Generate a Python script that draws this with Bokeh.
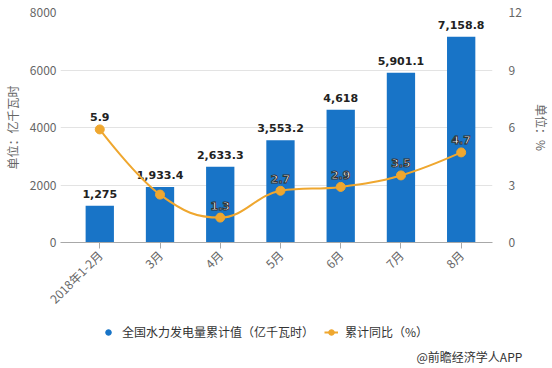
import math
from bokeh.plotting import figure
from bokeh.layouts import column
from bokeh.models import (Range1d, LinearAxis, FixedTicker, ColumnDataSource, Legend, LegendItem, Title)
from bokeh.core.properties import value
from bokeh.embed import file_html
from bokeh.resources import INLINE

# ---- data ----
categories = ["2018年1-2月", "3月", "4月", "5月", "6月", "7月", "8月"]
power = [1275, 1933.4, 2633.3, 3553.2, 4618, 5901.1, 7158.8]
power_labels = ["1,275", "1,933.4", "2,633.3", "3,553.2", "4,618", "5,901.1", "7,158.8"]
growth = [5.9, 2.5, 1.3, 2.7, 2.9, 3.5, 4.7]
growth_labels = ["5.9", "", "1.3", "2.7", "2.9", "3.5", "4.7"]
left_ticks = [0, 2000, 4000, 6000, 8000]
right_ticks = [0, 3, 6, 9, 12]

BLUE = "#1874C7"
ORANGE = "#EFA72F"
CJK = "Noto Sans CJK SC"

xs = list(range(len(categories)))

p = figure(width=552, height=315, output_backend="svg", toolbar_location=None,
           x_range=Range1d(-0.652, 6.52), y_range=Range1d(0, 8000),
           min_border_left=57, min_border_right=55, min_border_top=12, min_border_bottom=0)
p.outline_line_color = None
p.background_fill_color = "white"
p.border_fill_color = "white"

p.extra_y_ranges = {"pct": Range1d(0, 12)}

# bars
bsrc = ColumnDataSource(dict(x=xs, top=power, lab=power_labels))
p.vbar(x="x", top="top", width=0.47, source=bsrc, color=BLUE, line_color=None)
p.text(x="x", y="top", text="lab", source=bsrc, text_align="center", text_baseline="bottom",
       y_offset=-8, text_font=value("DejaVu Sans"), text_font_style="bold",
       text_font_size="11px", text_color="#222222")

# spline (Highcharts-style smoothing) built from the growth series
n = len(growth)
sm = 1.5
lc = [None] * n
rc = [None] * n
for i in range(1, n - 1):
    x0, y0 = xs[i - 1], growth[i - 1]
    x1, y1 = xs[i], growth[i]
    x2, y2 = xs[i + 1], growth[i + 1]
    lcx = (sm * x1 + x0) / (sm + 1)
    lcy = (sm * y1 + y0) / (sm + 1)
    rcx = (sm * x1 + x2) / (sm + 1)
    rcy = (sm * y1 + y2) / (sm + 1)
    if rcx != lcx:
        corr = ((rcy - lcy) * (rcx - x1)) / (rcx - lcx) + y1 - rcy
        lcy += corr
        rcy += corr
    if lcy > y0 and lcy > y1:
        lcy = max(y0, y1); rcy = 2 * y1 - lcy
    elif lcy < y0 and lcy < y1:
        lcy = min(y0, y1); rcy = 2 * y1 - lcy
    if rcy > y2 and rcy > y1:
        rcy = max(y2, y1); lcy = 2 * y1 - rcy
    elif rcy < y2 and rcy < y1:
        rcy = min(y2, y1); lcy = 2 * y1 - rcy
    lc[i] = (lcx, lcy)
    rc[i] = (rcx, rcy)

seg = dict(x0=[], y0=[], x1=[], y1=[], cx0=[], cy0=[], cx1=[], cy1=[])
for i in range(n - 1):
    a = rc[i] if rc[i] else (xs[i], growth[i])
    b = lc[i + 1] if lc[i + 1] else (xs[i + 1], growth[i + 1])
    seg["x0"].append(xs[i]); seg["y0"].append(growth[i])
    seg["x1"].append(xs[i + 1]); seg["y1"].append(growth[i + 1])
    seg["cx0"].append(a[0]); seg["cy0"].append(a[1])
    seg["cx1"].append(b[0]); seg["cy1"].append(b[1])
p.bezier(source=ColumnDataSource(seg), x0="x0", y0="y0", x1="x1", y1="y1",
         cx0="cx0", cy0="cy0", cx1="cx1", cy1="cy1",
         line_color=ORANGE, line_width=2, y_range_name="pct")

gsrc = ColumnDataSource(dict(x=xs, y=growth, lab=growth_labels))
p.scatter(x="x", y="y", source=gsrc, size=9, color=ORANGE, line_color=ORANGE,
          y_range_name="pct")

# growth labels: first one dark on white, others white with dark outline
g_dark = ColumnDataSource(dict(x=xs[:1], y=growth[:1], lab=growth_labels[:1]))
g_light = ColumnDataSource(dict(x=xs[1:], y=growth[1:], lab=growth_labels[1:]))
p.text(x="x", y="y", text="lab", source=g_dark, y_range_name="pct", text_align="center",
       text_baseline="bottom", y_offset=-8, text_font=value("DejaVu Sans"),
       text_font_style="bold", text_font_size="11px", text_color="#222222")
p.text(x="x", y="y", text="lab", source=g_light, y_range_name="pct", text_align="center",
       text_baseline="bottom", y_offset=-8, text_font=value("DejaVu Sans"),
       text_font_style="bold", text_font_size="11px", text_color="white",
       text_outline_color="#333333")

# axes
xa = p.xaxis[0]
xa.ticker = FixedTicker(ticks=xs)
xa.major_label_overrides = {i: c for i, c in enumerate(categories)}
xa.major_label_orientation = math.pi / 4
xa.major_label_text_font = CJK
xa.major_label_text_font_size = "12px"
xa.major_label_text_color = "#666666"
xa.axis_line_color = "#a8a8a8"
xa.major_tick_line_color = "#a8a8a8"
xa.major_tick_out = 6
xa.major_tick_in = 0
xa.minor_tick_line_color = None
xa.major_label_standoff = 4

ya = p.yaxis[0]
ya.ticker = FixedTicker(ticks=left_ticks)
ya.axis_line_color = None
ya.major_tick_line_color = None
ya.minor_tick_line_color = None
ya.major_tick_out = 0
ya.major_tick_in = 0
ya.major_label_text_font = CJK
ya.major_label_text_font_size = "12px"
ya.major_label_text_color = "#666666"
ya.major_label_standoff = 4
ya.axis_label = "单位：亿千瓦时"
ya.axis_label_text_font = CJK
ya.axis_label_text_font_size = "12px"
ya.axis_label_text_font_style = "normal"
ya.axis_label_text_color = "#666666"
ya.axis_label_standoff = 6

ra = LinearAxis(y_range_name="pct", ticker=FixedTicker(ticks=right_ticks))
ra.axis_line_color = None
ra.major_tick_line_color = None
ra.minor_tick_line_color = None
ra.major_tick_out = 0
ra.major_tick_in = 0
ra.major_label_text_font = CJK
ra.major_label_text_font_size = "12px"
ra.major_label_text_color = "#666666"
ra.major_label_standoff = 16
ra.axis_label = "单位：%"
ra.axis_label_text_font = CJK
ra.axis_label_text_font_size = "12px"
ra.axis_label_text_font_style = "normal"
ra.axis_label_text_color = "#666666"
ra.axis_label_standoff = 8
p.add_layout(ra, "right")

p.xgrid.grid_line_color = None
p.ygrid.grid_line_color = "#e3e3e3"
p.ygrid.ticker = FixedTicker(ticks=left_ticks)

# ---- legend + source strip (frame aligned with the main plot's frame) ----
p2 = figure(width=552, height=49, output_backend="svg", toolbar_location=None,
            x_range=Range1d(0, 1), y_range=Range1d(0, 1),
            x_axis_location=None, y_axis_location=None,
            min_border=0, min_border_left=57, min_border_right=55,
            min_border_top=0, min_border_bottom=0)
p2.grid.visible = False
p2.outline_line_color = None
p2.border_fill_color = "white"

nanx = [float("nan")]
d_bar = p2.scatter(x=nanx, y=nanx, size=11, color=BLUE)
d_pt = p2.scatter(x=nanx, y=nanx, size=8, color=ORANGE)
d_ln = p2.line(x=nanx * 2, y=nanx * 2, line_color=ORANGE, line_width=2)
legend = Legend(items=[LegendItem(label="全国水力发电量累计值（亿千瓦时）", renderers=[d_bar]),
                       LegendItem(label="累计同比（%）", renderers=[d_ln, d_pt])],
                location=(41, 5), orientation="horizontal",
                label_text_font=CJK, label_text_font_size="12px", label_text_color="#333333",
                glyph_width=14, glyph_height=16, label_standoff=7, spacing=10, padding=0,
                margin=0, border_line_color=None, background_fill_alpha=0)
p2.add_layout(legend, "center")

src = Title(text="@前瞻经济学人APP", align="left", offset=356, standoff=0,
            text_font=CJK, text_font_size="12px", text_font_style="normal",
            text_color="#333333")
p2.add_layout(src, "below")

open("out.html", "w").write(file_html(column(p, p2, spacing=0), INLINE))
